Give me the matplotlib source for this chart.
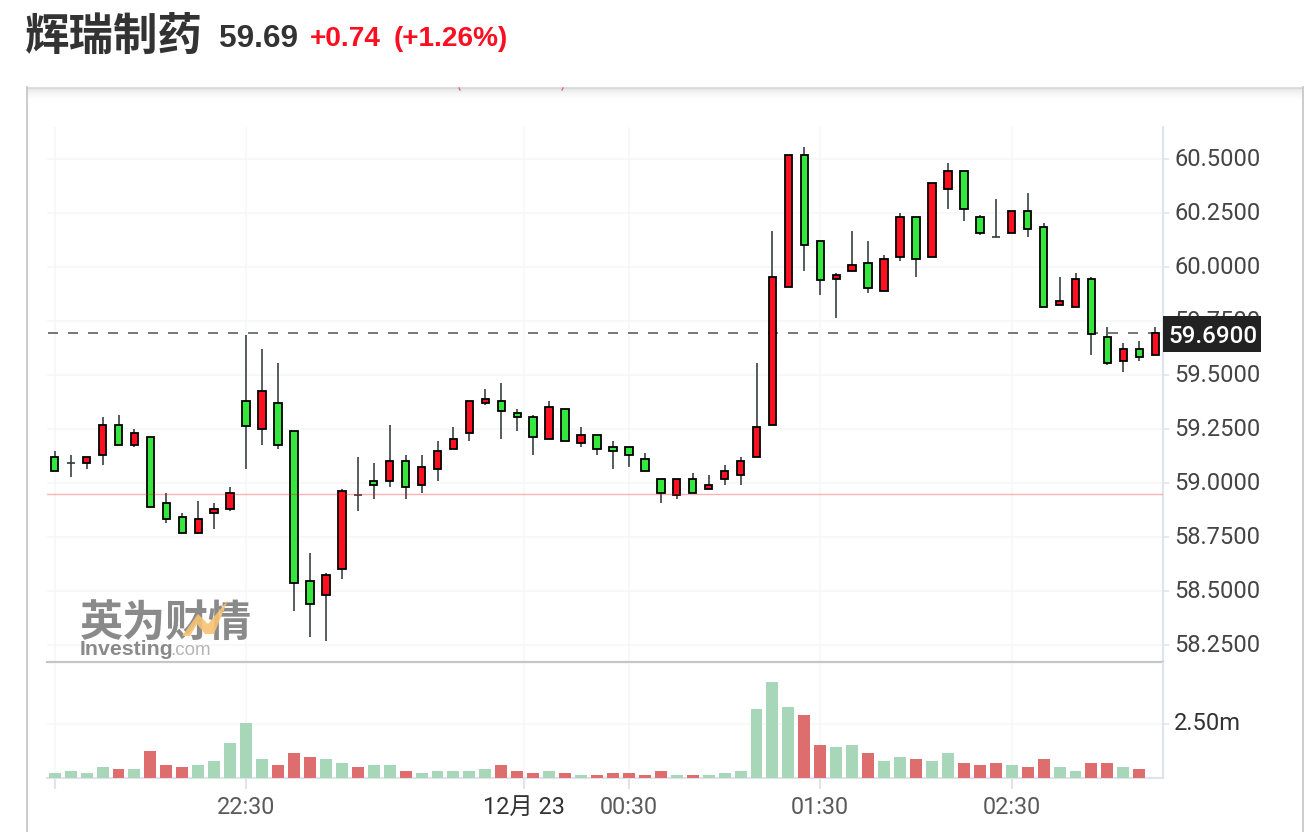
import matplotlib
matplotlib.use("Agg")
import matplotlib.pyplot as plt
from matplotlib.patches import Rectangle, Polygon
from matplotlib.transforms import ScaledTranslation

W, H = 1316, 832

# 5 minute candles
opens = [59.121, 59.096, 59.096, 59.133, 59.269, 59.179, 59.213, 58.908, 58.843, 58.772,
         58.864, 58.883, 59.380, 59.253, 59.371, 59.241, 58.547, 58.485, 58.605, 58.948,
         59.009, 59.012, 59.102, 58.994, 59.068, 59.160, 59.234, 59.373, 59.379, 59.324,
         59.305, 59.207, 59.342, 59.188, 59.222, 59.166, 59.166, 59.111, 59.018, 58.947,
         59.018, 58.975, 59.021, 59.040, 59.123, 59.272, 59.911, 60.519, 60.121, 59.948,
         59.985, 60.019, 59.892, 60.050, 60.232, 60.050, 60.364, 60.445, 60.232, 60.142,
         60.161, 60.260, 60.185, 59.827, 59.818, 59.945, 59.676, 59.568, 59.621, 59.596]
highs = [59.148, 59.130, 59.121, 59.306, 59.315, 59.250, 59.213, 58.954, 58.861, 58.917,
         58.908, 58.982, 59.685, 59.621, 59.556, 59.241, 58.676, 58.584, 58.972, 59.121,
         59.092, 59.268, 59.129, 59.129, 59.194, 59.259, 59.379, 59.435, 59.463, 59.342,
         59.315, 59.379, 59.342, 59.259, 59.222, 59.194, 59.166, 59.139, 59.018, 59.018,
         59.046, 59.037, 59.083, 59.120, 59.555, 60.167, 60.519, 60.556, 60.121, 59.973,
         60.167, 60.121, 60.056, 60.250, 60.232, 60.389, 60.482, 60.445, 60.241, 60.315,
         60.260, 60.343, 60.204, 59.954, 59.973, 59.954, 59.723, 59.648, 59.658, 59.723]
lows = [59.059, 59.031, 59.068, 59.087, 59.179, 59.170, 58.892, 58.818, 58.772, 58.763,
        58.790, 58.874, 59.068, 59.179, 59.161, 58.411, 58.290, 58.272, 58.559, 58.874,
        58.929, 58.984, 58.929, 58.957, 59.012, 59.160, 59.197, 59.364, 59.207, 59.244,
        59.132, 59.207, 59.197, 59.170, 59.132, 59.068, 59.077, 59.058, 58.910, 58.929,
        58.957, 58.975, 58.994, 58.994, 59.123, 59.272, 59.911, 59.985, 59.874, 59.763,
        59.985, 59.883, 59.892, 60.031, 59.957, 60.050, 60.272, 60.216, 60.151, 60.142,
        60.161, 60.142, 59.818, 59.827, 59.818, 59.596, 59.550, 59.513, 59.568, 59.596]
closes = [59.059, 59.096, 59.121, 59.269, 59.179, 59.232, 58.892, 58.837, 58.772, 58.834,
          58.880, 58.954, 59.263, 59.426, 59.179, 58.540, 58.439, 58.574, 58.963, 58.948,
          58.994, 59.102, 58.984, 59.074, 59.148, 59.203, 59.379, 59.389, 59.336, 59.308,
          59.216, 59.352, 59.197, 59.222, 59.160, 59.151, 59.132, 59.058, 58.957, 59.018,
          58.957, 58.991, 59.055, 59.102, 59.259, 59.954, 60.519, 60.105, 59.939, 59.963,
          60.010, 59.902, 60.037, 60.232, 60.040, 60.389, 60.445, 60.272, 60.161, 60.142,
          60.260, 60.179, 59.818, 59.843, 59.945, 59.689, 59.559, 59.621, 59.587, 59.695]

# volume in millions, one bar short of the candles
volumes = [0.233, 0.326, 0.233, 0.512, 0.419, 0.419, 1.258, 0.606, 0.512, 0.606,
           0.792, 1.631, 2.562, 0.885, 0.606, 1.165, 0.978, 0.885, 0.699, 0.512,
           0.606, 0.606, 0.326, 0.233, 0.326, 0.326, 0.326, 0.419, 0.606, 0.326,
           0.233, 0.326, 0.233, 0.140, 0.140, 0.233, 0.233, 0.140, 0.326, 0.140,
           0.140, 0.140, 0.233, 0.326, 3.215, 4.426, 3.308, 2.935, 1.537, 1.444,
           1.537, 1.165, 0.792, 0.978, 0.885, 0.792, 1.165, 0.699, 0.606, 0.699,
           0.606, 0.512, 0.885, 0.512, 0.326, 0.699, 0.699, 0.512, 0.419]
volume_sides = ["g", "g", "g", "g", "r", "g", "r", "r", "r", "g",
                "g", "g", "g", "g", "r", "r", "r", "g", "g", "r",
                "g", "g", "r", "g", "g", "g", "g", "g", "r", "r",
                "r", "g", "r", "g", "r", "r", "r", "r", "r", "g",
                "r", "g", "g", "g", "g", "g", "g", "r", "r", "g",
                "g", "r", "g", "g", "r", "g", "g", "r", "r", "r",
                "g", "r", "r", "g", "g", "r", "r", "g", "r"]

price_ticks = [58.25, 58.5, 58.75, 59.0, 59.25, 59.5, 59.75, 60.0, 60.25, 60.5]
time_ticks = [0, 12, 29.45, 36, 48, 60]
time_labels = ["", "22:30", "12月 23", "00:30", "01:30", "02:30"]
volume_ticks = [2.5]
volume_labels = ["2.50m"]

last_price = 59.69
prev_close = 58.95

name = "辉瑞制药"
head_price = "59.69"
head_change = "+0.74"
head_pct = "(+1.26%)"

RED = "#ff1020"
GREEN = "#35e63c"
VOL_RED = "#de6d6d"
VOL_GREEN = "#a8d6b9"
WICK = "#2f3a3c"
GRID = "#f5f6f8"
AXIS = "#e0e3eb"
LABEL = "#444444"

plt.rcParams["font.family"] = ["Roboto", "Noto Sans CJK SC", "DejaVu Sans"]
plt.rcParams["lines.scale_dashes"] = False


def fx(x):
    return x / W


def fy(y):
    return 1 - y / H


def make_axes(fig, left, top, right, bottom):
    return fig.add_axes([fx(left), fy(bottom), (right - left) / W, (bottom - top) / H])


fig = plt.figure(figsize=(W / 100, H / 100), dpi=100, facecolor="white")

# outer box with its soft shadow at the top
for i in range(14):
    fig.add_artist(Rectangle((fx(27), fy(88 + i + 1)), (1303 - 27) / W, 1 / H,
                             transform=fig.transFigure, color="black",
                             alpha=0.10 * (1 - i / 14) ** 2, lw=0))
fig.add_artist(plt.Line2D([fx(27), fx(1303)], [fy(87.5), fy(87.5)], color="#d8d8d8", lw=1.2))
fig.add_artist(plt.Line2D([fx(27), fx(27)], [fy(87), 0], color="#c8c8c8", lw=1.3))
fig.add_artist(plt.Line2D([fx(1303), fx(1303)], [fy(87), 0], color="#c8c8c8", lw=1.3))
# bits of a clipped legend sticking out under the box edge
fig.add_artist(plt.Line2D([fx(459), fx(460)], [fy(88), fy(90)], color="#f06070", lw=1))
fig.add_artist(plt.Line2D([fx(563), fx(562)], [fy(88), fy(90)], color="#f06070", lw=1))

# header
fig.text(fx(25), fy(50), name, family=["Noto Sans CJK SC", "DejaVu Sans"], fontweight="bold",
         fontsize=32, color="#333333", va="baseline")
fig.text(fx(219), fy(47), head_price, family="Liberation Sans", fontweight="bold",
         fontsize=22.7, color="#333333", va="baseline")
fig.text(fx(310), fy(46), head_change, family="Liberation Sans", fontweight="bold",
         fontsize=20.2, color="#fb0f20", va="baseline")
fig.text(fx(394), fy(46), head_pct, family="Liberation Sans", fontweight="bold",
         fontsize=20.2, color="#fb0f20", va="baseline")

# x = 54.7 + 15.95 * i, price y = 159.3 + (60.5 - p) * 216
xlim = ((47 - 54.7) / 15.95, (1163 - 54.7) / 15.95)
ax = make_axes(fig, 47, 127, 1163, 662)
ax.set_xlim(xlim)
ax.set_ylim(60.5 - (662 - 159.3) / 216, 60.5 - (127 - 159.3) / 216)
ax.set_facecolor("none")

vol = make_axes(fig, 47, 663, 1163, 778)
vol.set_xlim(xlim)
vol.set_ylim(0, 115 * 2.5 / 54)
vol.set_facecolor("none")

for a in (ax, vol):
    a.set_axisbelow(True)
    a.grid(True, color=GRID, lw=1.1)
    a.yaxis.tick_right()
    for s in ("left", "top", "bottom"):
        a.spines[s].set_visible(False)
    a.spines["right"].set_color(AXIS)
    a.spines["right"].set_linewidth(1.5)
    a.set_xticks(time_ticks)

ax.spines["bottom"].set_visible(True)
ax.spines["bottom"].set_color("#c6c6c6")
ax.spines["bottom"].set_linewidth(1.6)
vol.spines["bottom"].set_visible(True)
vol.spines["bottom"].set_color(AXIS)
vol.spines["bottom"].set_linewidth(1.5)

ax.set_yticks(price_ticks)
ax.set_yticklabels(["%.4f" % p for p in price_ticks])
ax.tick_params(axis="x", length=0, labelbottom=False)
ax.tick_params(axis="y", length=4, width=1.1, color=AXIS, pad=4, labelsize=17, labelcolor=LABEL)

vol.set_yticks(volume_ticks)
vol.set_yticklabels(volume_labels)
vol.set_xticklabels(time_labels)
vol.tick_params(axis="y", length=4, width=1.1, color=AXIS, pad=4, labelsize=17, labelcolor="#333333")
vol.tick_params(axis="x", length=8, width=1.5, color=AXIS, pad=5, labelsize=16.8, labelcolor="#5a5a5a")
vol.get_xticklabels()[2].set_color("#333333")

# the y labels sit a little above their ticks
nudge = ScaledTranslation(0, 2.5 / 100, fig.dpi_scale_trans)
for a in (ax, vol):
    for lab in a.get_yticklabels():
        lab.set_transform(lab.get_transform() + nudge)

# watermark
fig.text(fx(80), fy(636), "英为财情", family=["Noto Sans CJK SC", "DejaVu Sans"], fontweight="black",
         fontsize=31, color="#8a8a8a", va="baseline")
fig.text(fx(80), fy(655), "Investing", family="Liberation Sans", fontweight="bold",
         fontsize=15.3, color="#8a8a8a", va="baseline")
fig.text(fx(170), fy(655), ".com", family="Liberation Sans", fontsize=13.5,
         color="#b5b5b5", va="baseline")
fig.add_artist(Polygon([(fx(182), fy(636)), (fx(198), fy(614)), (fx(208), fy(624)), (fx(228), fy(600)),
                        (fx(214), fy(634)), (fx(205), fy(634)), (fx(197), fy(624)), (fx(190), fy(636))],
                       transform=fig.transFigure, color="#f8c272", alpha=0.9, lw=0, zorder=4))

# candles
xs = list(range(len(opens)))
ax.vlines(xs, lows, highs, color=WICK, lw=1.15, zorder=3)
for i in xs:
    if opens[i] == closes[i]:
        ax.hlines(opens[i], i - 0.25, i + 0.25, color=WICK, lw=1.2, zorder=3)
    else:
        body_color = RED if closes[i] > opens[i] else GREEN
        ax.bar(i, abs(closes[i] - opens[i]), bottom=min(opens[i], closes[i]), width=0.47,
               facecolor=body_color, edgecolor="black", linewidth=1.3, zorder=4)

# previous close and last price
ax.axhline(prev_close, color="#f02020", alpha=0.35, lw=1.0, zorder=5)
ax.plot([(48 - 54.7) / 15.95, xlim[1]], [last_price + 0.004, last_price + 0.004], color="#585858", lw=1.15,
        linestyle=(0, (7.2, 7.2)), zorder=2.5)

# last price flag over the axis labels
trans = ax.get_yaxis_transform()
ax.add_patch(Rectangle((1.0, last_price - 0.081), 98 / 1116, 0.167, transform=trans,
                       facecolor="#222222", edgecolor="none", clip_on=False, zorder=6))
ax.text(1.0 + 49.5 / 1116, last_price + 0.002, "%.4f" % last_price, transform=trans, color="white",
        fontsize=17.4, fontweight="medium", ha="center", va="center_baseline", zorder=7, clip_on=False)

# volume
vol_colors = [VOL_RED if s == "r" else VOL_GREEN for s in volume_sides]
vol.bar(range(len(volumes)), volumes, width=0.75, color=vol_colors, zorder=3)

fig.savefig("out.png", dpi=100, facecolor="white")
